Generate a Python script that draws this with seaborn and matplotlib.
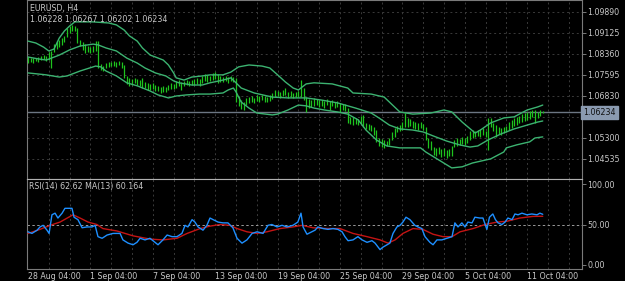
import numpy as np
import pandas as pd
import matplotlib
matplotlib.use("Agg")
import matplotlib.pyplot as plt
import seaborn as sns

# ---------------- data ----------------
high = [
1.0825,1.0821,1.0821,1.0821,1.0825,1.0829,1.0832,1.0829,1.0843,1.0847,
1.0872,1.0883,1.0887,1.0894,1.0902,1.0931,1.0938,1.0942,1.0938,1.0931,
1.0887,1.0880,1.0872,1.0865,1.0861,1.0865,1.0883,1.0883,1.0800,1.0792,
1.0803,1.0807,1.0807,1.0810,1.0807,1.0810,1.0807,1.0796,1.0756,1.0749,
1.0745,1.0749,1.0745,1.0741,1.0749,1.0734,1.0731,1.0727,1.0731,1.0723,
1.0720,1.0716,1.0720,1.0716,1.0723,1.0731,1.0727,1.0738,1.0741,1.0734,
1.0738,1.0741,1.0738,1.0741,1.0745,1.0749,1.0745,1.0756,1.0763,1.0760,
1.0756,1.0767,1.0770,1.0763,1.0756,1.0752,1.0756,1.0752,1.0756,1.0752,
1.0749,1.0683,1.0668,1.0661,1.0676,1.0679,1.0683,1.0676,1.0687,1.0683,
1.0687,1.0683,1.0679,1.0687,1.0694,1.0705,1.0701,1.0698,1.0705,1.0712,
1.0698,1.0701,1.0694,1.0698,1.0701,1.0741,1.0712,1.0679,1.0672,1.0668,
1.0676,1.0672,1.0668,1.0668,1.0665,1.0672,1.0665,1.0668,1.0661,1.0665,
1.0658,1.0654,1.0654,1.0639,1.0607,1.0607,1.0603,1.0599,1.0610,1.0614,
1.0585,1.0581,1.0577,1.0570,1.0559,1.0530,1.0526,1.0523,1.0519,1.0530,
1.0552,1.0567,1.0574,1.0577,1.0588,1.0621,1.0603,1.0599,1.0592,1.0588,
1.0585,1.0588,1.0581,1.0570,1.0530,1.0519,1.0497,1.0494,1.0497,1.0490,
1.0494,1.0486,1.0490,1.0501,1.0523,1.0530,1.0526,1.0534,1.0530,1.0537,
1.0556,1.0559,1.0556,1.0559,1.0563,1.0567,1.0556,1.0603,1.0603,1.0585,
1.0577,1.0570,1.0567,1.0570,1.0574,1.0588,1.0596,1.0603,1.0607,1.0610,
1.0617,1.0621,1.0625,1.0628,1.0632,1.0632,1.0625,1.0632,1.06267]

low = [
1.0803,1.0807,1.0803,1.0810,1.0807,1.0814,1.0818,1.0810,1.0814,1.0785,
1.0843,1.0854,1.0861,1.0869,1.0880,1.0898,1.0912,1.0920,1.0920,1.0876,
1.0865,1.0851,1.0840,1.0843,1.0840,1.0843,1.0847,1.0785,1.0778,1.0774,
1.0785,1.0789,1.0792,1.0792,1.0789,1.0796,1.0785,1.0749,1.0727,1.0720,
1.0723,1.0731,1.0723,1.0720,1.0712,1.0712,1.0705,1.0705,1.0709,1.0701,
1.0701,1.0694,1.0698,1.0698,1.0705,1.0709,1.0709,1.0712,1.0720,1.0705,
1.0720,1.0723,1.0720,1.0723,1.0723,1.0727,1.0720,1.0731,1.0738,1.0734,
1.0738,1.0741,1.0745,1.0731,1.0734,1.0734,1.0738,1.0731,1.0738,1.0734,
1.0661,1.0647,1.0636,1.0632,1.0650,1.0658,1.0661,1.0658,1.0665,1.0661,
1.0668,1.0661,1.0661,1.0665,1.0672,1.0679,1.0683,1.0676,1.0683,1.0687,
1.0676,1.0679,1.0676,1.0679,1.0679,1.0679,1.0668,1.0625,1.0639,1.0643,
1.0647,1.0650,1.0643,1.0647,1.0639,1.0650,1.0632,1.0647,1.0639,1.0643,
1.0625,1.0632,1.0628,1.0585,1.0581,1.0577,1.0581,1.0577,1.0581,1.0570,
1.0563,1.0559,1.0556,1.0541,1.0516,1.0501,1.0497,1.0494,1.0501,1.0505,
1.0523,1.0534,1.0552,1.0556,1.0559,1.0570,1.0570,1.0574,1.0567,1.0563,
1.0559,1.0567,1.0559,1.0523,1.0494,1.0486,1.0468,1.0465,1.0472,1.0461,
1.0465,1.0457,1.0465,1.0465,1.0497,1.0501,1.0505,1.0508,1.0505,1.0512,
1.0523,1.0530,1.0534,1.0537,1.0534,1.0541,1.0534,1.0486,1.0570,1.0556,
1.0534,1.0545,1.0541,1.0548,1.0552,1.0559,1.0567,1.0574,1.0577,1.0585,
1.0588,1.0592,1.0596,1.0599,1.0607,1.0585,1.0603,1.0610,1.06202]

upper_bar = [0,3,6,8,10,12,14,16,18,25,31,34,37,39,42,44,47,49,52,54,56,57,60,63,67,70,75,78,81,85,90,93,96,99,102,104,107,110,117,123,125,132,137,139,143,148,155,160,163,167,172,174,178,183,187,192,196,198]
upper_val = [1.0883,1.0876,1.0861,1.0847,1.0854,1.0894,1.0920,1.0938,1.0953,1.0953,1.0949,1.0942,1.0923,1.0902,1.0883,1.0858,1.0832,1.0825,1.0814,1.0796,1.0767,1.0749,1.0741,1.0752,1.0756,1.0760,1.0760,1.0770,1.0789,1.0796,1.0792,1.0785,1.0760,1.0734,1.0712,1.0705,1.0727,1.0731,1.0727,1.0712,1.0694,1.0690,1.0679,1.0661,1.0625,1.0617,1.0621,1.0632,1.0625,1.0588,1.0548,1.0559,1.0585,1.0603,1.0607,1.0632,1.0643,1.0650]

middle_bar = [0,4,7,9,12,16,20,25,27,30,34,38,42,45,49,53,56,58,63,67,70,75,78,80,82,87,94,100,107,113,119,126,132,135,139,143,148,152,156,161,166,170,173,177,182,187,192,196,198]
middle_val = [1.0825,1.0818,1.0814,1.0821,1.0832,1.0851,1.0865,1.0872,1.0869,1.0858,1.0847,1.0821,1.0803,1.0785,1.0767,1.0756,1.0738,1.0731,1.0723,1.0723,1.0731,1.0741,1.0749,1.0731,1.0712,1.0694,1.0679,1.0676,1.0676,1.0668,1.0658,1.0639,1.0621,1.0603,1.0577,1.0563,1.0559,1.0552,1.0537,1.0519,1.0505,1.0497,1.0501,1.0523,1.0545,1.0563,1.0577,1.0588,1.0592]

lower_bar = [0,7,12,15,20,26,28,30,34,38,42,47,50,54,57,61,66,70,75,77,79,80,82,85,88,94,96,100,104,107,110,114,119,123,127,130,134,138,143,151,153,158,163,167,171,178,183,184,188,193,195,198]
lower_val = [1.0767,1.0760,1.0752,1.0756,1.0774,1.0792,1.0789,1.0774,1.0756,1.0731,1.0720,1.0701,1.0687,1.0676,1.0683,1.0687,1.0690,1.0690,1.0694,1.0705,1.0712,1.0698,1.0661,1.0639,1.0621,1.0614,1.0617,1.0632,1.0650,1.0647,1.0639,1.0632,1.0625,1.0617,1.0596,1.0559,1.0523,1.0501,1.0494,1.0494,1.0479,1.0450,1.0421,1.0425,1.0439,1.0454,1.0479,1.0494,1.0505,1.0516,1.0530,1.0534]

rsi_bar = [0,1.5,3.5,4.6,5.8,7.3,8.1,9.2,10.4,11.5,13.1,14.2,15.4,16.9,17.7,19.2,20.8,22.7,24.6,25.8,26.9,28.5,30.4,32.7,35.4,36.5,38.5,40.4,41.9,43.1,45,46.9,48.8,50,51.9,53.5,55.4,57.3,59.2,60.4,61.5,63.1,64.2,65.4,67.3,68.8,70,71.2,73.1,75,76.9,78.8,80.4,82.3,84.2,86.2,88.1,90.4,92.3,93.8,95.8,97.7,99.6,101.9,103.8,105,105.8,107.3,109.2,110.4,111.5,113.5,115.4,117.3,119.2,120.8,121.9,123.1,125,126.9,128.5,130.4,132.3,133.5,135.4,136.5,138.1,139.2,140.4,141.9,143.1,144.2,145.4,146.9,148.8,150,151.5,152.7,154.6,155.8,157.3,159.2,161.2,163.1,164.2,165.4,166.9,168.1,169.2,170.8,171.9,173.8,175,176.5,177.5,178.8,179.8,180.8,182.3,183.5,184.6,186.2,187.3,188.5,190,191.9,193.8,195.8,196.9,198]
rsi_val = [41,39,43,47,49,43,39,62,64,58,64,70,70,70,59,56,46,47,47,49,35,33,37,39,39,31,27,25,28,33,31,33,28,25,31,37,35,35,39,49,47,56,53,47,43,49,58,56,53,52,52,46,33,27,31,39,41,39,49,50,47,49,47,49,53,64,47,38,41,43,47,45,44,45,44,41,35,30,31,35,31,28,30,27,19,22,25,27,39,47,49,53,59,56,49,47,45,35,28,25,31,31,33,35,52,47,52,47,53,52,59,58,58,44,59,63,56,52,50,53,58,56,63,62,64,62,63,62,64,62.62]

ma_bar = [0,4.6,8.5,12.3,17.3,20,23.1,26.5,28.8,34.2,40.4,46.9,51.9,57.3,61.2,66.2,70,73.8,77.7,80.4,84.2,88.1,91.9,96.9,101.9,105.4,109.6,115,120,125,130.4,135.4,138.5,141.2,144.2,148.1,151.9,155.8,159.6,163.1,166.2,171.2,175.8,180.4,184.2,189.2,194.2,198]
ma_val = [39,44,49,53,62,58,53,50,45,42,36,32,31,33,39,45,48,50,49,45,41,39,41,45,47,49,46,45,45,39,35,31,27,31,39,45,44,38,35,35,41,45,50,53,54,58,60,60.164]

price_ticks = [1.09890, 1.09125, 1.08360, 1.07595, 1.06830, 1.06065, 1.05300, 1.04535]
rsi_ticks = [0, 50, 100]
rsi_tick_labels = ["0.00", "50.00", "100.00"]
date_bars = [0, 24, 48, 72, 96, 120, 144, 168, 192]
date_labels = ["28 Aug 04:00", "1 Sep 04:00", "7 Sep 04:00", "13 Sep 04:00", "19 Sep 04:00",
               "25 Sep 04:00", "29 Sep 04:00", "5 Oct 04:00", "11 Oct 04:00"]
last_price = 1.06234
ohlc_text = "1.06228 1.06267 1.06202 1.06234"

# ---------------- styling ----------------
sns.set_theme(style="dark")
plt.rcParams['font.family'] = ['DejaVu Sans']

W, H = 625, 281
BG = "#000000"
TXT = "#c8c8c8"
FRAME = "#7a7a7a"
GRID = "#3a3a3a"
BAR = "#1ec41e"
BAND = "#3cb371"
FS = 5.7

fig = plt.figure(figsize=(W / 100, H / 100), dpi=100, facecolor=BG)

def box(x0, y0, x1, y1):
    return [x0 / W, 1 - y1 / H, (x1 - x0) / W, (y1 - y0) / H]

ax1 = fig.add_axes(box(27, 0, 582, 179))
ax2 = fig.add_axes(box(27, 179, 582, 269))

xlim = (-0.4, 213.1)
for ax in (ax1, ax2):
    ax.set_facecolor(BG)
    ax.set_xlim(*xlim)
    ax.grid(False)
    for s in ax.spines.values():
        s.set_color(FRAME)
        s.set_linewidth(0.8)

ax1.set_ylim(1.03806, 1.10327)
ax2.set_ylim(-4.94, 106.2)

# vertical grid every 8 bars
vgrid = np.arange(8, 213, 8)
for ax in (ax1, ax2):
    ax.vlines(vgrid, *ax.get_ylim(), colors=GRID, linestyles=(0, (2, 3)), linewidth=0.7, zorder=0)
ax1.hlines(price_ticks, *xlim, colors=GRID, linestyles=(0, (2, 3)), linewidth=0.7, zorder=0)
ax2.hlines([50], *xlim, colors="#9a9a9a", linestyles=(0, (2.5, 2.5)), linewidth=0.7, zorder=1)

# price bars
bars = pd.DataFrame({"bar": np.arange(len(high)), "high": high, "low": low})
ax1.vlines(bars["bar"], bars["low"], bars["high"], colors=BAR, linewidth=0.9, zorder=3)

# Bollinger bands
for bx, bv in ((upper_bar, upper_val), (middle_bar, middle_val), (lower_bar, lower_val)):
    sns.lineplot(x=bx, y=bv, ax=ax1, color=BAND, linewidth=1.0, zorder=4)

# current price line
ax1.axhline(last_price, color="#6c7683", linewidth=1.0, zorder=2)

# RSI and MA
sns.lineplot(x=ma_bar, y=ma_val, ax=ax2, color="#c41414", linewidth=1.0, zorder=3)
sns.lineplot(x=rsi_bar, y=rsi_val, ax=ax2, color="#1e8fff", linewidth=1.0, zorder=4)

# axes ticks
ax1.yaxis.tick_right()
ax1.set_yticks(price_ticks)
ax1.set_yticklabels([f"{p:.5f}" for p in price_ticks])
ax1.set_xticks([])
ax1.tick_params(axis="y", colors=FRAME, labelcolor=TXT, labelsize=FS, length=3, width=0.7, pad=0.8)
ax1.set_xlabel(""); ax1.set_ylabel("")

ax2.yaxis.tick_right()
ax2.set_yticks(rsi_ticks)
ax2.set_yticklabels(rsi_tick_labels)
ax2.set_xticks(date_bars)
ax2.set_xticklabels(date_labels, ha="left")
ax2.tick_params(axis="y", colors=FRAME, labelcolor=TXT, labelsize=FS, length=3, width=0.7, pad=0.8)
ax2.tick_params(axis="x", colors=FRAME, labelcolor=TXT, labelsize=FS, length=2, width=0.7, pad=0.3)
ax2.spines["top"].set_color("#b0b0b0")
ax2.set_xlabel(""); ax2.set_ylabel("")

# price label box (covers the 1.06065 label as in the terminal)
ax1.text(1.002, last_price, f"{last_price:.5f}", transform=ax1.get_yaxis_transform(),
         ha="left", va="center", fontsize=FS, color="#101010", zorder=10, clip_on=False,
         bbox=dict(boxstyle="square,pad=0.25", facecolor="#8a9ab0", edgecolor="#8a9ab0"))

# texts
fig.text(30 / W, 1 - 8 / H, "EURUSD, H4", color=TXT, fontsize=FS, va="center", ha="left")
fig.text(30 / W, 1 - 20 / H, ohlc_text, color=TXT, fontsize=FS, va="center", ha="left")
fig.text(29 / W, 1 - 187 / H, "RSI(14) 62.62 MA(13) 60.164", color=TXT, fontsize=FS, va="center", ha="left")

fig.savefig("out.png", dpi=100, facecolor=BG)
